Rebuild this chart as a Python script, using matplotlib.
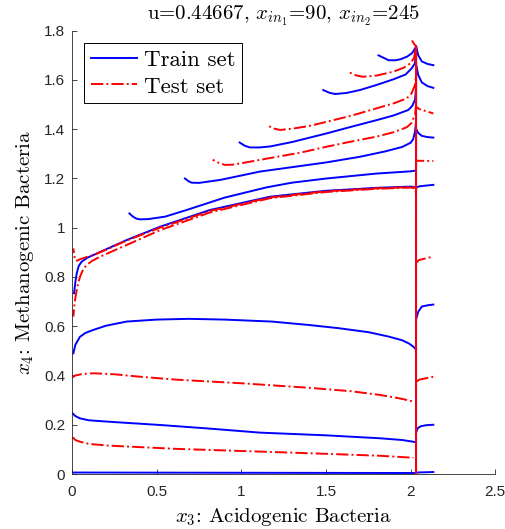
import matplotlib
matplotlib.use("Agg")
import matplotlib.pyplot as plt
from matplotlib.ticker import FuncFormatter

plt.rcParams["mathtext.fontset"] = "cm"
plt.rcParams["font.family"] = ["Liberation Sans", "DejaVu Sans"]

# Phase-plane trajectories (x3, x4) of the digester model
train_a = [(0.004, 0.006), (1.0, 0.005), (2.032, 0.004)]
train_b = [(0.004, 0.246), (0.02, 0.235), (0.047, 0.226), (0.1, 0.218), (0.224, 0.212),
           (0.52, 0.199), (0.8, 0.185), (1.11, 0.168), (1.5, 0.157), (1.82, 0.145),
           (1.95, 0.138), (2.016, 0.131), (2.032, 0.128)]
train_c = [(0.008, 0.49), (0.02, 0.525), (0.047, 0.557), (0.08, 0.573), (0.126, 0.585),
           (0.2, 0.602), (0.323, 0.619), (0.5, 0.627), (0.689, 0.63), (0.9, 0.627),
           (1.18, 0.619), (1.4, 0.605), (1.575, 0.592), (1.75, 0.576), (1.87, 0.558),
           (1.95, 0.543), (1.99, 0.53), (2.016, 0.517), (2.032, 0.505)]
train_d = [(0.012, 0.734), (0.02, 0.78), (0.028, 0.815), (0.04, 0.845), (0.057, 0.862),
           (0.09, 0.878), (0.126, 0.889), (0.2, 0.912), (0.323, 0.95), (0.52, 1.004),
           (0.815, 1.072), (1.17, 1.126), (1.5, 1.15), (1.8, 1.162), (2.0, 1.167),
           (2.032, 1.165)]
train_e = [(0.339, 1.058), (0.36, 1.045), (0.38, 1.037), (0.40, 1.034), (0.45, 1.035),
           (0.55, 1.045), (0.677, 1.072), (0.9, 1.122), (1.15, 1.164), (1.3, 1.183),
           (1.504, 1.2), (1.8, 1.22), (2.0, 1.229), (2.032, 1.232), (2.032, 1.40)]
train_f = [(0.667, 1.2), (0.69, 1.188), (0.707, 1.183), (0.75, 1.182), (0.874, 1.194),
           (1.0, 1.212), (1.11, 1.228), (1.3, 1.246), (1.5, 1.265), (1.7, 1.288),
           (1.85, 1.31), (1.95, 1.328), (2.0, 1.345), (2.015, 1.36), (2.026, 1.39),
           (2.032, 1.43), (2.032, 1.735)]
train_g = [(0.99, 1.346), (1.02, 1.333), (1.05, 1.326), (1.11, 1.326), (1.17, 1.33),
           (1.3, 1.348), (1.504, 1.383), (1.65, 1.41), (1.8, 1.437), (1.9, 1.456),
           (1.986, 1.478), (2.01, 1.495), (2.026, 1.52), (2.032, 1.57), (2.032, 1.735)]
train_h = [(1.484, 1.559), (1.52, 1.548), (1.553, 1.543), (1.62, 1.547), (1.70, 1.559),
           (1.8, 1.58), (1.9, 1.603), (1.97, 1.622), (2.006, 1.647), (2.026, 1.668),
           (2.032, 1.735)]
train_i = [(1.81, 1.70), (1.84, 1.69), (1.87, 1.68), (1.91, 1.68), (1.94, 1.684),
           (1.98, 1.695), (2.01, 1.71), (2.032, 1.735), (2.032, 0.0)]

# After the feed switch (x3 just above 2)
train_ra = [(2.035, 0.006), (2.134, 0.008)]
train_rb = [(2.033, 0.17), (2.042, 0.186), (2.06, 0.194), (2.09, 0.198), (2.134, 0.2)]
train_rc = [(2.033, 0.63), (2.045, 0.659), (2.066, 0.68), (2.1, 0.685), (2.134, 0.688)]
train_rd = [(2.033, 1.163), (2.05, 1.168), (2.09, 1.171), (2.134, 1.174)]
train_re = [(2.033, 1.40), (2.045, 1.385), (2.066, 1.373), (2.1, 1.368), (2.134, 1.366)]
train_rf = [(2.033, 1.66), (2.045, 1.62), (2.066, 1.59), (2.1, 1.575), (2.134, 1.568)]
train_rg = [(2.033, 1.735), (2.045, 1.70), (2.066, 1.675), (2.1, 1.665), (2.134, 1.66)]

test_a = [(0.004, 0.149), (0.02, 0.138), (0.047, 0.131), (0.1, 0.122), (0.224, 0.115),
          (0.618, 0.102), (1.11, 0.091), (1.5, 0.082), (1.82, 0.074), (2.016, 0.066)]
test_b = [(0.004, 0.393), (0.02, 0.40), (0.06, 0.406), (0.126, 0.409), (0.25, 0.405),
          (0.4, 0.395), (0.618, 0.383), (1.01, 0.368), (1.4, 0.35), (1.65, 0.336),
          (1.82, 0.321), (1.95, 0.305), (2.016, 0.294)]
test_c = [(0.008, 0.639), (0.015, 0.69), (0.024, 0.734), (0.035, 0.77), (0.047, 0.80),
          (0.065, 0.83), (0.087, 0.849), (0.12, 0.866), (0.165, 0.882), (0.24, 0.905),
          (0.323, 0.93), (0.52, 0.99), (0.815, 1.062), (1.17, 1.12), (1.5, 1.145),
          (1.8, 1.158), (2.0, 1.163), (2.025, 1.16), (2.032, 1.14)]
test_d = [(0.008, 0.916), (0.013, 0.89), (0.018, 0.869), (0.03, 0.866), (0.047, 0.872),
          (0.09, 0.882), (0.126, 0.889), (0.2, 0.91), (0.323, 0.948), (0.52, 1.0),
          (0.815, 1.068), (1.17, 1.123), (1.5, 1.148), (1.8, 1.16), (2.0, 1.165),
          (2.032, 1.163)]
test_e = [(0.831, 1.276), (0.87, 1.262), (0.904, 1.255), (0.95, 1.256), (1.05, 1.268),
          (1.17, 1.283), (1.35, 1.305), (1.504, 1.329), (1.65, 1.35), (1.8, 1.37),
          (1.9, 1.388), (1.977, 1.408), (2.005, 1.425), (2.026, 1.459), (2.032, 1.5),
          (2.032, 1.735)]
test_f = [(1.15, 1.417), (1.19, 1.403), (1.229, 1.397), (1.3, 1.402), (1.4, 1.413),
          (1.504, 1.43), (1.65, 1.455), (1.8, 1.485), (1.9, 1.505), (1.977, 1.525),
          (2.005, 1.545), (2.026, 1.58), (2.032, 1.62), (2.032, 1.735)]
test_g = [(1.64, 1.63), (1.68, 1.618), (1.72, 1.613), (1.8, 1.618), (1.9, 1.634),
          (1.96, 1.65), (2.0, 1.668), (2.02, 1.69), (2.032, 1.735), (2.032, 0.0)]
test_h = [(2.0, 1.77), (2.015, 1.752), (2.032, 1.735), (2.032, 0.0)]

test_ra = [(2.036, 0.375), (2.05, 0.383), (2.134, 0.395)]
test_rb = [(2.036, 0.86), (2.05, 0.869), (2.134, 0.883)]
test_rc = [(2.036, 1.272), (2.134, 1.271)]
test_rd = [(2.036, 1.49), (2.05, 1.482), (2.134, 1.464)]

train_set = [train_a, train_b, train_c, train_d, train_e, train_f, train_g, train_h,
             train_i, train_ra, train_rb, train_rc, train_rd, train_re, train_rf, train_rg]
test_set = [test_a, test_b, test_c, test_d, test_e, test_f, test_g, test_h,
            test_ra, test_rb, test_rc, test_rd]

x_ticks = [0, 0.5, 1, 1.5, 2, 2.5]
y_ticks = [0, 0.2, 0.4, 0.6, 0.8, 1.0, 1.2, 1.4, 1.6, 1.8]

title_text = r"u=0.44667, $x_{in_1}$=90, $x_{in_2}$=245"
x_label = r"$x_3$: Acidogenic Bacteria"
y_label = r"$x_4$: Methanogenic Bacteria"
legend_labels = ["Train set", "Test set"]

fig = plt.figure(figsize=(5.05, 5.29), dpi=100)
ax = fig.add_axes([72 / 505, 55 / 529, 423.3 / 505, 443.3 / 529])

lw = 1.4
dashdot = (0, (6.3, 1.6, 1.0, 1.6))
train_handle = None
for traj in train_set:
    xs, ys = zip(*traj)
    (h,) = ax.plot(xs, ys, color=(0, 0, 1), lw=lw, solid_joinstyle="round")
    train_handle = train_handle or h
test_handle = None
for k, traj in enumerate(test_set):
    xs, ys = zip(*traj)
    style = (1.3 * k, dashdot[1])
    (h,) = ax.plot(xs, ys, color=(1, 0, 0), lw=lw, linestyle=style)
    test_handle = test_handle or h

ax.set_xlim(0, 2.5)
ax.set_ylim(0, 1.8)
ax.set_xticks(x_ticks)
ax.set_yticks(y_ticks)
fmt = FuncFormatter(lambda v, p: f"{v:g}")
ax.xaxis.set_major_formatter(fmt)
ax.yaxis.set_major_formatter(fmt)

for side in ("top", "right"):
    ax.spines[side].set_visible(False)
for side in ("left", "bottom"):
    ax.spines[side].set_color("#262626")
    ax.spines[side].set_linewidth(0.6)
ax.tick_params(direction="in", length=3.5, width=0.6, color="#262626",
               labelsize=11, labelcolor="#262626")
ax.tick_params(axis="x", pad=8)
ax.tick_params(axis="y", pad=5)

ax.set_xlabel(x_label, fontfamily="cmr10", fontsize=15, labelpad=5)
ax.set_ylabel(y_label, fontfamily="cmr10", fontsize=15, labelpad=6)
ax.set_title(title_text, fontfamily="cmr10", fontsize=15, pad=8)

leg = ax.legend([train_handle, test_handle], legend_labels,
                loc="upper left", bbox_to_anchor=(0.029, 0.973), borderaxespad=0,
                prop={"family": "cmr10", "size": 16.5}, frameon=True, fancybox=False,
                handlelength=2.0, handletextpad=0.3, labelspacing=0.3,
                borderpad=0.3, framealpha=1)
leg.get_frame().set_edgecolor("black")
leg.get_frame().set_linewidth(0.7)

fig.savefig("out.png", dpi=100)
